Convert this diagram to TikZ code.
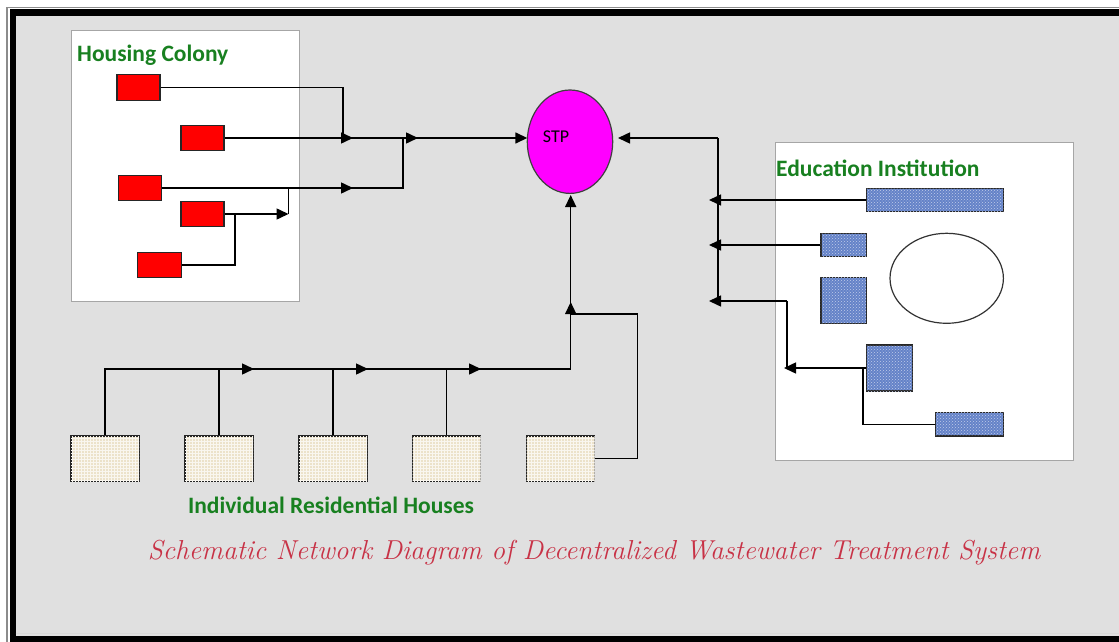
\documentclass[tikz,border=0pt]{standalone}
\usepackage{fontspec}
\newfontfamily\calib{Carlito}
\usetikzlibrary{arrows.meta,patterns,shapes.geometric}
\definecolor{bgc}{RGB}{224,224,224}
\definecolor{ttl}{RGB}{24,128,32}
\definecolor{capc}{RGB}{200,50,70}
\definecolor{edu}{RGB}{100,130,200}
\definecolor{house}{RGB}{236,226,202}
\definecolor{stpc}{RGB}{255,0,255}
\tikzset{
  ln/.style={line width=1.5pt, black},
  arr/.style={line width=1.5pt, black, -{Triangle[length=12pt,width=11pt]}},
  redbox/.style={draw=black!85, fill=red, line width=1.2pt, inner sep=0pt, minimum height=25pt},
  edubox/.style={draw=black!85, fill=edu, line width=1.2pt, inner sep=0pt,
     postaction={pattern=crosshatch dots, pattern color=white!60!edu}},
  housebox/.style={draw=black!85, fill=house, line width=1.2pt, inner sep=0pt,
     minimum width=68pt, minimum height=45pt,
     postaction={pattern=grid, pattern color=white!70!house}},
  panel/.style={draw=black!35, fill=white, line width=0.8pt},
  ttltext/.style={font=\calib\bfseries\fontsize{23.5}{26}\selectfont, text=ttl, inner sep=0pt},
}
\begin{document}
\begin{tikzpicture}[x=1pt,y=-1pt]
\useasboundingbox (0,0) rectangle (1119,642);
% frame
\fill[white] (0,0) rectangle (1119,642);
\fill[black] (9.5,9.5) rectangle (1140,660);
\fill[bgc] (15.5,16) rectangle (1140,636);
\draw[black!45, line width=1.5pt] (7,660) -- (7,7.5) -- (1140,7.5);
\draw[white!85!black, line width=1pt] (15.5,633.5) -- (1140,633.5);
% panels
\fill[panel] (71,30) rectangle (299,301);
\draw[panel] (71,30) rectangle (299,301);
\draw[panel] (775,142) rectangle (1073,460);
% titles
\node[ttltext, anchor=west] (tHC) at (77,55) {Housing Colony};
\node[ttltext, anchor=west] (tEI) at (776,168) {Education Institution};
\node[ttltext] (tIR) at (331,505) {Individual Residential Houses};
\node[font=\itshape\fontsize{27.4}{31}\selectfont, text=capc, inner sep=0pt] (cap) at (594,553)
  {Schematic Network Diagram of Decentralized Wastewater Treatment System};
% STP
\node[ellipse, draw=black!75, fill=stpc, line width=1.2pt, minimum width=85.4pt, minimum height=103.4pt, inner sep=0pt,
  label={[font=\calib\fontsize{18}{20}\selectfont, xshift=-14pt, yshift=5pt]center:STP}] (STP) at (570,141.7) {};
% housing colony boxes
\node[redbox, minimum width=43pt, minimum height=26pt] (R1) at (138.5,87.5) {};
\node[redbox, minimum width=43pt] (R2) at (202.5,138) {};
\node[redbox, minimum width=43pt] (R3) at (139.7,188) {};
\node[redbox, minimum width=43pt] (R4) at (202.5,214) {};
\node[redbox, minimum width=44pt] (R5) at (159.5,265) {};
% education boxes
\node[edubox, minimum width=136.6pt, minimum height=22.3pt] (E1) at (935,200) {};
\node[edubox, minimum width=45.7pt, minimum height=22.7pt] (E2) at (843.8,245) {};
\node[edubox, minimum width=45.7pt, minimum height=45.6pt] (E3) at (843.8,300.5) {};
\node[edubox, minimum width=45.6pt, minimum height=46pt] (E4) at (889.5,368) {};
\node[edubox, minimum width=67.6pt, minimum height=23.3pt] (E5) at (969.5,424.3) {};
\node[ellipse, draw=black!80, fill=white, line width=1.2pt, minimum width=113.4pt, minimum height=90pt, inner sep=0pt] (OV) at (946.7,278.3) {};
% houses
\node[housebox] (H1) at (105,458.5) {};
\node[housebox] (H2) at (219,458.5) {};
\node[housebox] (H3) at (333,458.5) {};
\node[housebox] (H4) at (446.5,458.5) {};
\node[housebox] (H5) at (560.5,458.5) {};
% coordinates
\coordinate (a1) at (343,87.5);
\coordinate (a2) at (343,138);
\coordinate (a2t) at (353,138);
\coordinate (b1) at (403,188);
\coordinate (b2) at (403,138);
\coordinate (b2t) at (418,138);
\coordinate (b3t) at (353,188);
\coordinate (c1) at (235,265);
\coordinate (c2) at (235,214);
\coordinate (c3) at (288.5,214);
\coordinate (c4) at (288.5,188);
\coordinate (stpL) at (527.3,138);
\coordinate (stpR) at (618,138);
\coordinate (tr0) at (718,138);
\coordinate (tr1) at (718,200);
\coordinate (tr2) at (718,245);
\coordinate (tr3) at (718,301);
\coordinate (e4c) at (787,368);
\coordinate (e4t) at (784,368);
\coordinate (e4u) at (787,301);
\coordinate (e5c) at (863,424.3);
\coordinate (e5u) at (863,368);
\coordinate (hL) at (105,369);
\coordinate (hR) at (570.7,369);
\coordinate (hj) at (570.7,314);
\coordinate (h5a) at (637.5,458.5);
\coordinate (h5b) at (637.5,314);
\coordinate (stpB) at (570.7,195);
% housing colony connectors
\draw[ln] (R1.east) -- (a1) -- (a2);
\draw[arr] (R2.east) -- (a2t);
\draw[arr] (a2) -- (b2t);
\draw[arr] (b2) -- (stpL);
\draw[ln] (R3.east) -- (b1) -- (b2);
\draw[arr] (R3.east) -- (b3t);
\draw[ln] (R5.east) -- (c1) -- (c2);
\draw[arr] (R4.east) -- (c3);
\draw[ln] (c3) -- (c4);
% education connectors
\draw[ln] (tr0) -- (tr3);
\draw[arr] (tr0) -- (stpR);
\draw[arr] (E1.west) -- ([xshift=-9pt]tr1);
\draw[arr] (E2.west) -- ([xshift=-9pt]tr2);
\draw[ln] (e4c) -- (e4u);
\draw[arr] (e4u) -- ([xshift=-9pt]tr3);
\draw[arr] (E4.west) -- (e4t);
\draw[ln] (E5.west) -- (e5c) -- (e5u);
% houses connectors
\draw[ln] (H1.north) -- (hL) -- (hR);
\draw[ln] (H2.north) -- (H2.north |- hL);
\draw[ln] (H3.north) -- (H3.north |- hL);
\draw[ln] (H4.north) -- (H4.north |- hL);
\draw[arr] (hL) -- (254,369);
\draw[arr] (H2.north |- hL) -- (368,369);
\draw[arr] (H3.north |- hL) -- (481,369);
\draw[arr] (hR) -- (stpB);
\draw[ln] (H5.east) -- (h5a) -- (h5b) -- (hj);
\draw[arr] (hj) -- (570.7,302);
\end{tikzpicture}
\end{document}
